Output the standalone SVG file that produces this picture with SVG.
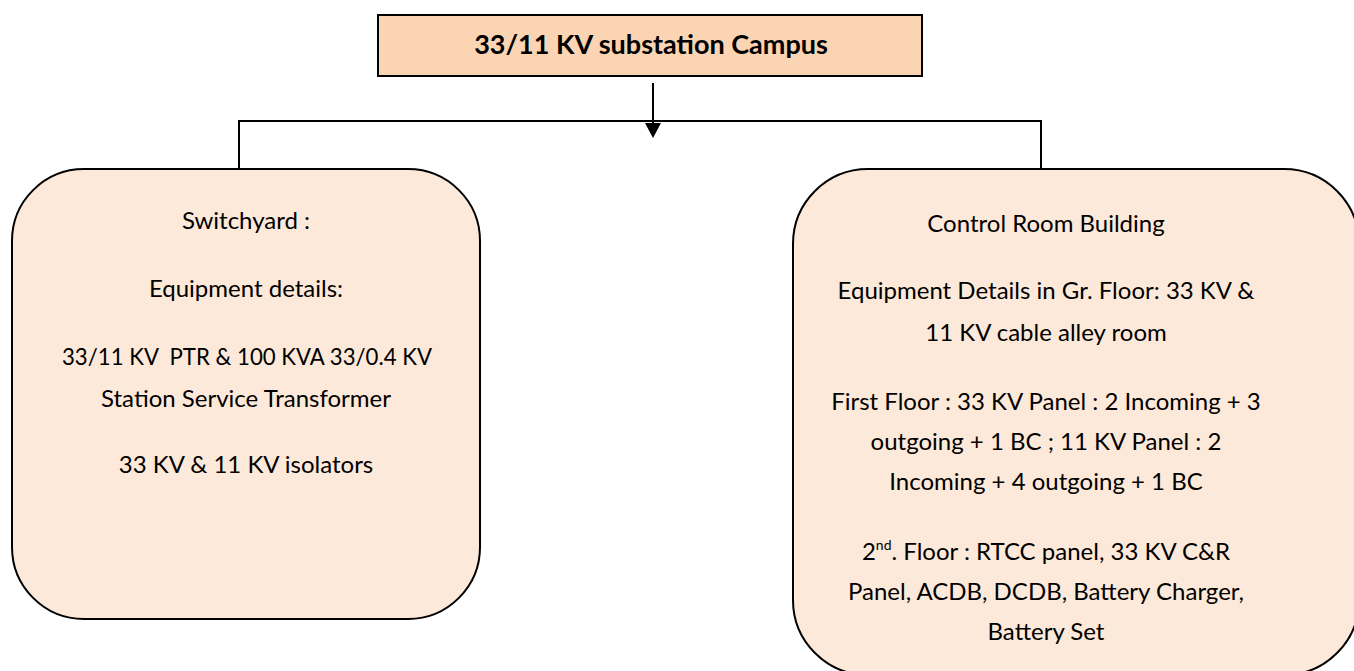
<svg xmlns="http://www.w3.org/2000/svg" width="1354" height="671" viewBox="0 0 1354 671">
<style>
  .box { stroke: #000; stroke-width: 2; }
  .top { fill: #FBD4B4; }
  .node { fill: #FDE9D9; }
  .line { stroke: #000; stroke-width: 2; fill: none; }
  text { font-family: Lato, "Liberation Sans", sans-serif; font-size: 24px; fill: #000; text-anchor: middle; white-space: pre; }
  .title { font-weight: bold; font-size: 27px; }
</style>
<g id="connectors">
  <line class="line" x1="239" y1="121" x2="1041" y2="121"/>
  <line class="line" x1="239" y1="120" x2="239" y2="169"/>
  <line class="line" x1="1041" y1="120" x2="1041" y2="169"/>
  <line class="line" x1="653" y1="83" x2="653" y2="125"/>
  <polygon points="645,123 661,123 653,138" fill="#000"/>
</g>
<g id="campus">
  <rect class="box top" x="378" y="15" width="544" height="61"/>
  <text class="title" x="651" y="54">33/11 KV substation Campus</text>
</g>
<g id="switchyard">
  <rect class="box node" x="12" y="169" width="468" height="450" rx="72" ry="72"/>
  <text x="246" y="229">Switchyard :</text>
  <text x="246" y="297">Equipment details:</text>
  <text x="247" y="365" textLength="370" lengthAdjust="spacingAndGlyphs">33/11 KV  PTR &amp; 100 KVA 33/0.4 KV</text>
  <text x="246" y="407">Station Service Transformer</text>
  <text x="246" y="473">33 KV &amp; 11 KV isolators</text>
</g>
<g id="control-room">
  <rect class="box node" x="793" y="169" width="566" height="506" rx="75" ry="75"/>
  <text x="1046" y="232">Control Room Building</text>
  <text x="1046" y="299">Equipment Details in Gr. Floor: 33 KV &amp;</text>
  <text x="1046" y="341">11 KV cable alley room</text>
  <text x="1046" y="410">First Floor : 33 KV Panel : 2 Incoming + 3</text>
  <text x="1046" y="450">outgoing + 1 BC ; 11 KV Panel : 2</text>
  <text x="1046" y="490">Incoming + 4 outgoing + 1 BC</text>
  <text x="1046" y="560">2<tspan font-size="14" dy="-10">nd</tspan><tspan dy="10">. Floor : RTCC panel, 33 KV C&amp;R</tspan></text>
  <text x="1046" y="600">Panel, ACDB, DCDB, Battery Charger,</text>
  <text x="1046" y="640">Battery Set</text>
</g>
</svg>
